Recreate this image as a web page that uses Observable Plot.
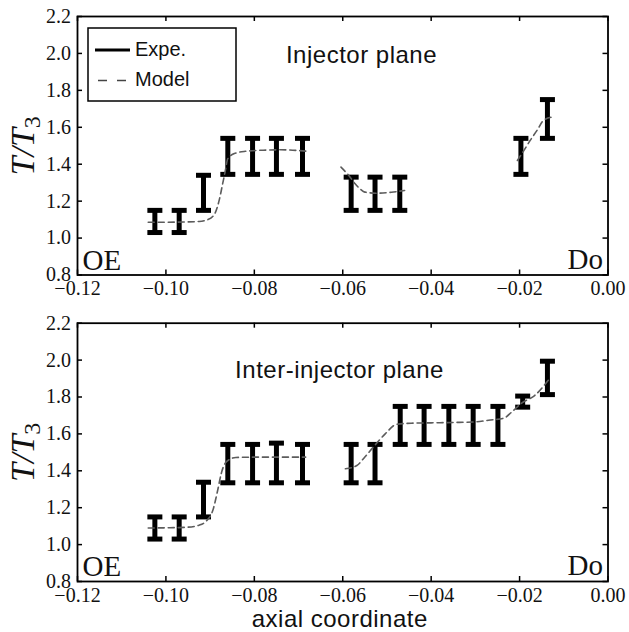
<!DOCTYPE html>
<html><head><meta charset="utf-8">
<script src="https://cdn.jsdelivr.net/npm/d3@7"></script>
<script src="https://cdn.jsdelivr.net/npm/@observablehq/plot@0.6"></script>
<style>
html,body{margin:0;padding:0;background:#fff;}
#wrap{position:relative;width:629px;height:632px;overflow:hidden;}
#chart svg{display:block;}
#legend{position:absolute;left:0;top:0;}
</style></head><body>
<div id="wrap"><div id="chart"></div><svg id="legend" width="629" height="120"></svg></div>
<script>
// ---- tick values ----
const xTicks = [-0.12, -0.10, -0.08, -0.06, -0.04, -0.02, 0.00];
const yTicks = [0.8, 1.0, 1.2, 1.4, 1.6, 1.8, 2.0, 2.2];

// ---- Injector plane: experiment error bars ----
const injX  = [-0.1025, -0.0970, -0.0915, -0.0860, -0.0804, -0.0750, -0.0691, -0.0581, -0.0527, -0.0471, -0.0197, -0.0137];
const injLo = [1.03, 1.03, 1.15, 1.345, 1.345, 1.345, 1.345, 1.15, 1.15, 1.15, 1.345, 1.54];
const injHi = [1.15, 1.15, 1.34, 1.54, 1.54, 1.54, 1.54, 1.33, 1.33, 1.33, 1.54, 1.75];

// ---- Injector plane: model ----
const injModelX = [-0.1040, -0.1000, -0.0960, -0.0925, -0.0905, -0.0890, -0.0880, -0.0872, -0.0866, -0.0860, -0.0845, -0.0820, -0.0780, -0.0740, -0.0700, -0.0680,
                   -0.0604, -0.0585, -0.0572, -0.0560, -0.0550, -0.0524, -0.0490, -0.0460,
                   -0.0205, -0.0190, -0.0176, -0.0160, -0.0146, -0.0127];
const injModelY = [1.086, 1.086, 1.087, 1.090, 1.100, 1.130, 1.200, 1.290, 1.360, 1.430, 1.458, 1.470, 1.476, 1.478, 1.474, 1.470,
                   1.384, 1.335, 1.294, 1.265, 1.249, 1.243, 1.248, 1.258,
                   1.420, 1.475, 1.529, 1.585, 1.637, 1.655];
const injModelSeg = [1,1,1,1,1,1,1,1,1,1,1,1,1,1,1,1, 2,2,2,2,2,2,2,2, 3,3,3,3,3,3];

// ---- Inter-injector plane: experiment error bars ----
const interX  = [-0.1025, -0.0970, -0.0915, -0.0860, -0.0804, -0.0750, -0.0691, -0.0581, -0.0527, -0.0470, -0.0416, -0.0360, -0.0305, -0.0249, -0.0193, -0.0137];
const interLo = [1.03, 1.03, 1.15, 1.335, 1.335, 1.335, 1.335, 1.335, 1.335, 1.543, 1.543, 1.543, 1.543, 1.543, 1.745, 1.813];
const interHi = [1.15, 1.15, 1.338, 1.543, 1.543, 1.55, 1.543, 1.543, 1.543, 1.749, 1.749, 1.749, 1.749, 1.749, 1.805, 1.994];

// ---- Inter-injector plane: model ----
const interModelX = [-0.1040, -0.1000, -0.0953, -0.0925, -0.0909, -0.0894, -0.0883, -0.0875, -0.0864, -0.0842, -0.0800, -0.0750, -0.0684,
                     -0.0594, -0.0568, -0.0550, -0.0531, -0.0504, -0.0478, -0.0445, -0.0400, -0.0350, -0.0300, -0.0270, -0.0236, -0.0218, -0.0196, -0.0166, -0.0132];
const interModelY = [1.090, 1.091, 1.094, 1.105, 1.127, 1.185, 1.293, 1.384, 1.447, 1.472, 1.474, 1.474, 1.474,
                     1.411, 1.429, 1.475, 1.528, 1.600, 1.652, 1.658, 1.660, 1.662, 1.665, 1.674, 1.685, 1.718, 1.766, 1.808, 1.900];
const interModelSeg = [1,1,1,1,1,1,1,1,1,1,1,1,1, 2,2,2,2,2,2,2,2,2,2,2,2,2,2,2,2];

// ---- texts ----
const panelTitles = ["Injector plane", "Inter-injector plane"];
const cornerLabels = ["OE", "Do"];
const yLabel = "T/T3";
const xLabel = "axial coordinate";
const legendLabels = ["Expe.", "Model"];

const W = 629, ML = 77, MR = 21.5;
const SERIF = "Liberation Serif, Times New Roman, serif";
const SANS = "Liberation Sans, Arial, Helvetica, sans-serif";
const capSym = {draw(ctx) { ctx.moveTo(-7.5, 0); ctx.lineTo(7.5, 0); }};

function panel({xs, lo, hi, mx, my, mseg, title, titleDx, titleDy, height, marginTop, marginBottom, withXLabel}) {
  const bars = xs.map((x, i) => ({x, lo: lo[i], hi: hi[i]}));
  const model = mx.map((x, i) => ({x, y: my[i], s: mseg[i]}));
  const pw = W - ML - MR, ph = height - marginTop - marginBottom;
  const marks = [
    Plot.ruleX(bars, {x: "x", y1: "lo", y2: "hi", stroke: "#000", strokeWidth: 5}),
    Plot.dot(bars, {x: "x", y: "lo", symbol: capSym, r: 5, fill: "none", stroke: "#000", strokeWidth: 5}),
    Plot.dot(bars, {x: "x", y: "hi", symbol: capSym, r: 5, fill: "none", stroke: "#000", strokeWidth: 5}),
    Plot.line(model, {x: "x", y: "y", z: "s", stroke: "#5c5c5c", strokeWidth: 1.6, strokeDasharray: "6,4", curve: "monotone-x"}),
    Plot.tickX(xTicks, {x: d => d, insetTop: ph - 5, stroke: "#000", strokeWidth: 1.5}),
    Plot.tickX(xTicks, {x: d => d, insetBottom: ph - 5, stroke: "#000", strokeWidth: 1.5}),
    Plot.tickY(yTicks, {y: d => d, insetRight: pw - 5, stroke: "#000", strokeWidth: 1.5}),
    Plot.tickY(yTicks, {y: d => d, insetLeft: pw - 5, stroke: "#000", strokeWidth: 1.5}),
    Plot.frame({stroke: "#000", strokeWidth: 1.8}),
    Plot.axisX({ticks: xTicks, tickSize: 0, tickPadding: 6, tickFormat: d3.format(".2f"), fontSize: 20, fontFamily: SERIF, label: null, fill: "#111", stroke: "#111", strokeWidth: 0.35}),
    Plot.axisY({ticks: yTicks, tickSize: 0, tickPadding: 6.5, tickFormat: d3.format(".1f"), fontSize: 20, fontFamily: SERIF, label: null, fill: "#111", stroke: "#111", strokeWidth: 0.35}),
    Plot.text([title], {text: d => d, frameAnchor: "top-left", dx: titleDx, dy: titleDy, textAnchor: "middle", lineAnchor: "top", fontSize: 24, fontFamily: SANS, fill: "#111"}),
    Plot.text([cornerLabels[0]], {text: d => d, frameAnchor: "bottom-left", dx: 5, dy: -26, textAnchor: "start", lineAnchor: "top", fontSize: 29, fontFamily: SERIF, fill: "#111"}),
    Plot.text([cornerLabels[1]], {text: d => d, frameAnchor: "bottom-right", dx: -5, dy: -27, textAnchor: "end", lineAnchor: "top", fontSize: 29, fontFamily: SERIF, fill: "#111"}),
    Plot.text([yLabel], {text: d => d, frameAnchor: "left", dx: -54, rotate: -90, textAnchor: "middle", lineAnchor: "middle", fontSize: 34, fontStyle: "italic", fontFamily: SERIF, fill: "#111"})
  ];
  if (withXLabel) {
    marks.push(Plot.text([xLabel], {text: d => d, frameAnchor: "bottom", dx: -3, dy: 28, textAnchor: "middle", lineAnchor: "top", fontSize: 24, fontFamily: SANS, fill: "#111"}));
  }
  const svg = Plot.plot({
    width: W, height, marginLeft: ML, marginRight: MR, marginTop, marginBottom,
    x: {domain: [-0.12, 0]}, y: {domain: [0.8, 2.2]},
    style: {background: "#fff", overflow: "visible"},
    marks
  });
  // subscript for T/T3
  svg.querySelectorAll("text").forEach(t => {
    if (t.textContent === yLabel) {
      const ns = "http://www.w3.org/2000/svg";
      t.textContent = "";
      const a = document.createElementNS(ns, "tspan"); a.textContent = "T/T";
      const b = document.createElementNS(ns, "tspan"); b.textContent = "3";
      b.setAttribute("font-style", "normal"); b.setAttribute("font-size", "24"); b.setAttribute("dy", "6");
      t.appendChild(a); t.appendChild(b);
    }
  });
  svg.querySelectorAll('g[font-family^="Liberation Sans"] text').forEach(t => t.setAttribute("letter-spacing", "0.5"));
  return svg;
}

const chart = document.getElementById("chart");
chart.appendChild(panel({xs: injX, lo: injLo, hi: injHi, mx: injModelX, my: injModelY, mseg: injModelSeg,
  title: panelTitles[0], titleDx: 284, titleDy: 29, height: 300, marginTop: 16, marginBottom: 25.5, withXLabel: false}));
chart.appendChild(panel({xs: interX, lo: interLo, hi: interHi, mx: interModelX, my: interModelY, mseg: interModelSeg,
  title: panelTitles[1], titleDx: 262, titleDy: 37.5, height: 332, marginTop: 22.7, marginBottom: 51, withXLabel: true}));

// legend (top panel)
const lg = d3.select("#legend");
lg.append("rect").attr("x", 88).attr("y", 28).attr("width", 148).attr("height", 73)
  .attr("fill", "#fff").attr("stroke", "#000").attr("stroke-width", 1.5);
lg.append("line").attr("x1", 95).attr("x2", 130).attr("y1", 50).attr("y2", 50).attr("stroke", "#000").attr("stroke-width", 3.2);
lg.append("line").attr("x1", 98).attr("x2", 127).attr("y1", 80.5).attr("y2", 80.5).attr("stroke", "#444").attr("stroke-width", 1.6).attr("stroke-dasharray", "9,10");
lg.selectAll("text.lab").data(legendLabels).join("text").attr("class", "lab")
  .attr("x", 135).attr("y", (d, i) => i === 0 ? 56 : 85.5)
  .attr("font-family", SANS).attr("font-size", 20).attr("fill", "#111").text(d => d);
</script>
</body></html>
